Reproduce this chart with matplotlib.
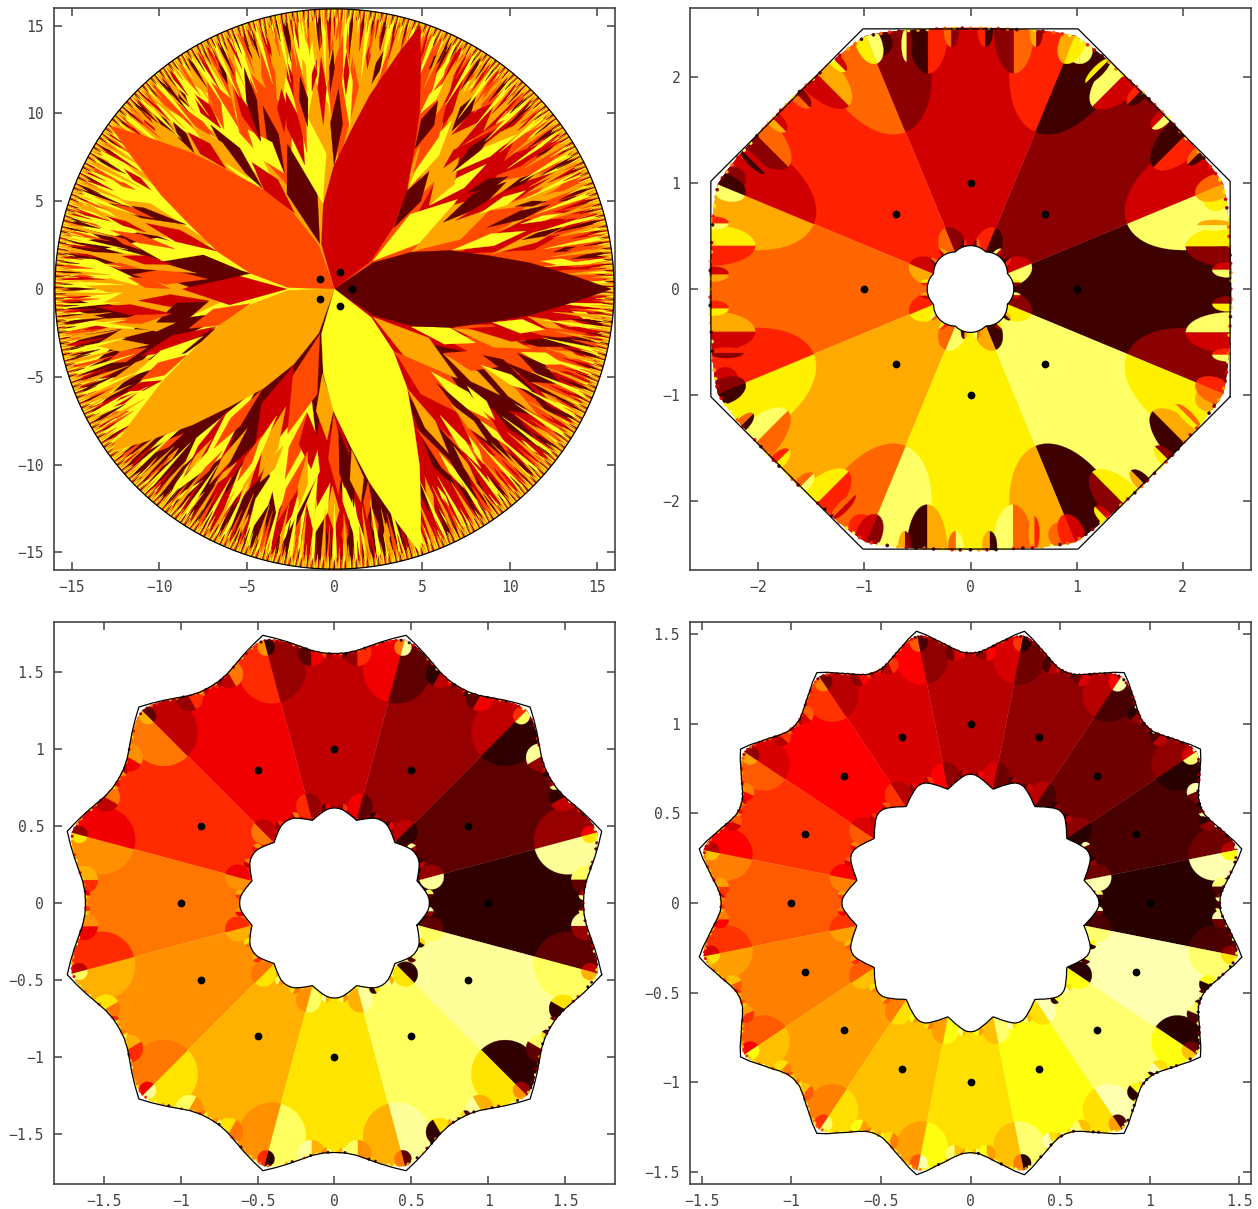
# -*- coding: utf-8 -*-
"""
Basins of attraction for the n-th roots of unity, n = 5, 8, 12, 16
"""

import numpy as np
import matplotlib
matplotlib.use('Agg')
import matplotlib.pyplot as plt
from matplotlib.collections import PolyCollection
from matplotlib.patches import Polygon

#==============================================================================
# data
#==============================================================================

# root colours, going counter clockwise from the root at angle 0
colors_5 = ['#600000', '#d00000', '#ff4a00', '#ffa500', '#ffff20']
colors_8 = ['#3f0000', '#8b0000', '#d00000', '#ff2200',
            '#ff6600', '#ffaa00', '#fff000', '#ffff66']
colors_12 = ['#300000', '#5e0000', '#960000', '#c00000', '#f00000', '#ff2a00',
             '#ff7700', '#ff9000', '#ffb000', '#ffe400', '#ffff60', '#ffff99']
colors_16 = ['#280000', '#4a0000', '#700000', '#900000', '#b80000', '#d80000',
             '#ff0000', '#ff3300', '#ff5a00', '#ff8000', '#ffa000', '#ffc000',
             '#ffe000', '#ffff10', '#ffff70', '#ffffb0']

# n = 5: half outline of the big lobe around a root (root along +x)
lobe_x = [0.0, 2.2, 4.4, 6.6, 8.8, 11.1, 13.8, 15.8]
lobe_y = [0.0, 1.5, 2.1, 2.2, 1.9, 1.5, 0.7, 0.0]
rim_5 = 15.95

# n = 5: wide bands of the fan between root 0 and root 1, drawn first
band_x0 = [3.5, 4.0, 5.0, 7.0, 3.5, 2.2, 2.2, 4.4, 6.6,
           5.0, 7.0, 8.0, 9.0, 5.5, 3.9, 7.0, 10.0, 8.5, 6.5, 8.3]
band_y0 = [4.0, 3.0, 2.3, 2.0, 3.8, 1.5, 1.6, 2.1, 2.2,
           7.5, 8.0, 6.0, 4.5, 9.0, 5.5, 7.0, 8.6, 9.0, 11.0, 11.0]
band_x1 = [9.0, 11.0, 14.0, 14.5, 7.0, 4.4, 7.0, 9.6, 11.9,
           7.5, 11.0, 12.5, 13.5, 7.0, 6.2, 12.0, 13.5, 10.5, 8.0, 10.0]
band_y1 = [13.0, 10.0, 7.0, 4.0, 14.0, 5.9, 5.1, 5.6, 5.8,
           12.5, 11.5, 8.5, 5.6, 13.5, 9.5, 10.0, 10.4, 12.0, 14.0, 13.0]
band_w = [1.5, 1.5, 1.4, 0.9, 1.0, 0.3, 0.9, 0.9, 0.7,
          0.4, 0.45, 0.4, 0.3, 0.3, 0.5, 0.4, 0.3, 0.4, 0.3, 0.3]
band_c = [3, 1, 3, 1, 2, 2, 4, 3, 2,
          1, 1, 1, 3, 3, 3, 3, 3, 3, 1, 2]

# n = 5: narrow spikes on top of them
spike_x0 = [6.2, 6.7, 9.0, 8.7, 6.9, 8.3, 10.6, 10.7, 10.9, 8.8, 11.1, 12.5, 13.8,
            3.4, 5.4, 4.2, 5.4, 4.5, 6.7, 6.7, 4.6, 6.7, 4.9, 6.7, 7.6, 9.2, 9.7, 10.3, 11.5, 7.3, 5.4, 5.6,
            10.0, 11.0, 12.0, 12.8, 12.0, 12.5]
spike_y0 = [3.8, 2.2, 2.0, 3.5, 3.9, 4.3, 3.7, 2.8, 1.8, 1.8, 1.2, 2.1, 1.8,
            3.5, 4.75, 5.7, 4.8, 6.6, 6.6, 9.0, 8.0, 6.6, 10.0, 8.8, 5.5, 9.4, 5.6, 4.7, 7.5, 11.1, 12.5, 11.3,
            10.0, 8.5, 6.5, 5.0, 3.0, 4.4]
spike_x1 = [9.8, 10.9, 13.4, 12.3, 13.0, 10.9, 13.0, 13.0, 14.2, 13.4, 14.0, 13.8, 15.0,
            5.4, 8.65, 6.7, 7.1, 6.4, 9.0, 8.1, 5.9, 10.4, 6.2, 9.1, 9.9, 10.5, 11.5, 12.1, 12.6, 8.1, 6.2, 6.4,
            11.8, 13.0, 14.0, 14.5, 14.5, 14.6]
spike_y1 = [6.1, 3.3, 3.7, 4.8, 6.8, 5.6, 4.3, 3.5, 1.4, 1.8, 1.2, 2.4, 2.0,
            6.7, 7.1, 9.6, 7.5, 10.7, 8.9, 11.1, 10.7, 8.8, 11.7, 10.6, 6.4, 10.4, 6.6, 5.0, 8.3, 12.1, 13.6, 13.0,
            11.6, 10.0, 7.5, 5.3, 3.5, 4.4]
spike_w = [0.45, 0.35, 0.3, 0.25, 0.4, 0.25, 0.15, 0.18, 0.2, 0.25, 0.15, 0.12, 0.08,
           0.5, 0.35, 0.45, 0.6, 0.45, 0.3, 0.35, 0.4, 0.3, 0.25, 0.35, 0.3, 0.2, 0.18, 0.15, 0.15, 0.2, 0.2, 0.2,
           0.25, 0.2, 0.15, 0.12, 0.12, 0.12]
spike_c = [0, 4, 3, 0, 1, 4, 4, 0, 4, 2, 1, 0, 0,
           0, 4, 4, 3, 2, 0, 0, 0, 4, 4, 1, 0, 4, 0, 0, 0, 4, 0, 4,
           0, 4, 4, 0, 2, 1]

# n = 5: thin teeth towards the circle
tooth_start = [13.4, 12.2, 13.8, 12.8, 13.1, 12.0, 13.6, 12.5]
tooth_c = [0, 4, 2, 3, 1, 4, 0, 3, 2, 4, 1, 3]
fine_start = [14.9, 14.4, 15.1, 14.6, 15.3, 14.7]
fine_c = [3, 0, 2, 4, 1, 3, 0, 4, 2]
edge_c = [3, 4, 1, 3, 4, 2, 0, 3, 4]

# n = 8, 12, 16: radius along half a sector, root (first) to corner (last)
curve_8 = [2.448, 2.453, 2.469, 2.496, 2.535, 2.586, 2.65]
curve_12 = [1.62, 1.625, 1.645, 1.68, 1.72, 1.76, 1.80]
curve_16 = [1.392, 1.398, 1.42, 1.45, 1.48, 1.515, 1.545]
edge_8 = [2.46, 2.465, 2.475, 2.49, 2.52, 2.55, 2.58]
edge_12 = [1.62, 1.625, 1.645, 1.68, 1.715, 1.75, 1.77]
edge_16 = [1.395, 1.40, 1.42, 1.45, 1.48, 1.505, 1.52]

# big lens on each ray: centre radius, half length, half width (outer, inner)
lens_8 = [2.65, 1.05, 0.55, 0.43, 0.19, 0.13]
lens_12 = [1.57, 0.22, 0.22, 0.653, 0.08, 0.08]
lens_16 = [1.39, 0.145, 0.145, 0.725, 0.075, 0.075]
# small lens at each corner: centre radius, half length, half width
tip_8 = [2.50, 0.20, 0.12]
tip_12 = [1.72, 0.055, 0.055]
tip_16 = [1.48, 0.05, 0.05]

# lenses around a root: along, across, half length, half width, colour steps
along_8 = [2.45, 2.45, 2.42, 2.42, 2.42, 2.30, 2.36, 2.24, 2.36, 0.40, 0.40]
across_8 = [0.40, -0.41, -0.14, 0.18, -0.62, 0.60, -0.93, -1.03, 0.85, 0.06, -0.06]
half_a_8 = [0.42, 0.42, 0.14, 0.14, 0.14, 0.16, 0.12, 0.12, 0.12, 0.07, 0.07]
half_b_8 = [0.19, 0.19, 0.07, 0.07, 0.06, 0.05, 0.06, 0.12, 0.05, 0.03, 0.03]
ccw_8 = [-2, -1, 1, 2, 3, -3, 2, -3, 1, -2, -1]
cw_8 = [1, 2, -2, -1, -1, -1, -1, -3, -2, 1, 2]

along_12 = [1.63, 1.63, 1.62, 1.62, 0.613, 0.613]
across_12 = [0.15, -0.15, 0.05, -0.05, 0.056, -0.056]
half_a_12 = [0.09, 0.09, 0.03, 0.03, 0.03, 0.03]
half_b_12 = [0.09, 0.09, 0.03, 0.03, 0.03, 0.03]
ccw_12 = [-2, -1, 2, 1, -2, -1]
cw_12 = [1, 2, -1, -2, 1, 2]

along_16 = [1.40, 1.40, 1.39, 1.39, 0.715, 0.715]
across_16 = [0.09, -0.09, 0.03, -0.03, 0.045, -0.045]
half_a_16 = [0.05, 0.05, 0.02, 0.02, 0.025, 0.025]
half_b_16 = [0.05, 0.05, 0.02, 0.02, 0.025, 0.025]
ccw_16 = [-2, -1, 2, 1, -2, -1]
cw_16 = [1, 2, -1, -2, 1, 2]

# rim specks: place along half a sector, colour step
speck_place = [-0.95, -0.88, -0.8, -0.7, -0.62, -0.53, -0.45, -0.36, -0.27, -0.18, -0.1, 0.0,
               0.08, 0.16, 0.25, 0.33, 0.42, 0.51, 0.6, 0.69, 0.78, 0.86, 0.93]
speck_c = [-3, 1, 2, -1, 4, 2, -2, 3, 1, -3, 3, 2, -1, 4, 2, 1, -3, 3, 4, -1, 1, 2, -2]

ticks_5 = [-15, -10, -5, 0, 5, 10, 15]
ticks_8 = [-2, -1, 0, 1, 2]
ticks_half = [-1.5, -1, -0.5, 0, 0.5, 1, 1.5]
labels_5 = ['\u221215', '\u221210', '\u22125', '0', '5', '10', '15']
labels_8 = ['\u22122', '\u22121', '0', '1', '2']
labels_half = ['\u22121.5', '\u22121', '\u22120.5', '0', '0.5', '1', '1.5']

#==============================================================================
# plot settings
#==============================================================================

frame_color = '#444444'
plt.rcParams['font.family'] = ['DejaVu Sans Mono', 'DejaVu Sans']
plt.rcParams['font.size'] = 10.6

W, H = 1258.0, 1209.0
fig = plt.figure(figsize=(12.58, 12.09), dpi=100, facecolor='white')


def make_axes(left, right, top, bottom, lim, ticks, labels):
    ax = fig.add_axes([left / W, 1 - bottom / H, (right - left) / W, (bottom - top) / H])
    ax.set_xlim(-lim, lim)
    ax.set_ylim(-lim, lim)
    ax.set_xticks(ticks)
    ax.set_yticks(ticks)
    ax.set_xticklabels(labels)
    ax.set_yticklabels(labels)
    ax.tick_params(direction='in', length=6, width=1.1, top=True, right=True,
                   color=frame_color, labelcolor=frame_color, pad=7)
    for s in ax.spines.values():
        s.set_color(frame_color)
        s.set_linewidth(1.2)
    return ax


def turn(pts, ang):
    c, s = np.cos(ang), np.sin(ang)
    pts = np.asarray(pts, float)
    return np.column_stack([c * pts[:, 0] - s * pts[:, 1], s * pts[:, 0] + c * pts[:, 1]])


def half_lens(along, across, a, b, axis, side):
    # half an ellipse, on one side of its long axis
    t = np.linspace(0, np.pi, 40)
    pts = np.column_stack([along + a * np.cos(t), across + side * b * np.sin(t)])
    return turn(pts, axis)


def kite(x0, y0, x1, y1, w):
    dx, dy = x1 - x0, y1 - y0
    ln = np.hypot(dx, dy)
    mx, my = x0 + 0.55 * dx, y0 + 0.55 * dy
    return np.array([[x0, y0], [mx - w * dy / ln, my + w * dx / ln], [x1, y1],
                     [mx + w * dy / ln, my - w * dx / ln]])


def add_polys(ax, polys, cols, clip=None, z=2):
    coll = PolyCollection(polys, facecolors=cols, edgecolors=cols, linewidths=0.2, zorder=z)
    ax.add_collection(coll)
    if clip is not None:
        coll.set_clip_path(clip)


def outline(n, radii):
    # closed outline through the listed radii, mirrored around every root
    half = np.pi / n
    frac = np.linspace(0, 1, len(radii))
    th, rr = [], []
    for k in range(n):
        root = 2 * np.pi * k / n
        th += list(root - half * frac[:0:-1]) + list(root + half * frac[:-1])
        rr += list(radii[:0:-1]) + list(radii[:-1])
    th, rr = np.array(th), np.array(rr)
    return th, rr


def root_dots(ax, n):
    ang = 2 * np.pi * np.arange(n) / n
    ax.plot(np.cos(ang), np.sin(ang), 'o', color='k', ms=5.6, mew=0, zorder=6)


def teeth(m, starts, tone, width, cols):
    polys, pc = [], []
    for i in range(m):
        a = 2 * np.pi * i / m
        r0 = starts[i % len(starts)]
        d = width * 2 * np.pi / m
        polys.append(np.array([[r0 * np.cos(a), r0 * np.sin(a)],
                               [16 * np.cos(a - d), 16 * np.sin(a - d)],
                               [16 * np.cos(a + d), 16 * np.sin(a + d)]]))
        pc.append(cols[tone[i % len(tone)]])
    return polys, pc


#==============================================================================
# n = 5
#==============================================================================

def plot_five(ax):
    n = 5
    cols = colors_5
    step = 2 * np.pi / n
    t = np.linspace(0, 2 * np.pi, 400)
    disc = Polygon(rim_5 * np.column_stack([np.cos(t), np.sin(t)]),
                   transform=ax.transData, fc='none', ec='none')
    ax.add_patch(disc)

    # fan background
    polys, pc = [], []
    for j in range(n):
        a0 = j * step
        s = np.linspace(a0, a0 + step, 40)
        polys.append(np.vstack([[0, 0], 16.5 * np.column_stack([np.cos(s), np.sin(s)])]))
        pc.append(cols[(j + 2) % n])
    add_polys(ax, polys, pc, disc, 2)

    # bands and spikes, turned and recoloured for each fan
    for z, (xa, ya, xb, yb, ww, cc) in enumerate([
            (band_x0, band_y0, band_x1, band_y1, band_w, band_c),
            (spike_x0, spike_y0, spike_x1, spike_y1, spike_w, spike_c)]):
        polys, pc = [], []
        for j in range(n):
            for x0, y0, x1, y1, w, c in zip(xa, ya, xb, yb, ww, cc):
                polys.append(turn(kite(x0, y0, x1, y1, w), j * step))
                pc.append(cols[(c + j) % n])
        add_polys(ax, polys, pc, disc, 2.5 + z * 0.2)

    # teeth at the circle
    for m, starts, tone, width in [(300, tooth_start, tooth_c, 0.5),
                                   (700, fine_start, fine_c, 0.55),
                                   (1400, [15.4, 15.2, 15.5], edge_c, 0.6)]:
        polys, pc = teeth(m, starts, tone, width, cols)
        add_polys(ax, polys, pc, disc, 4)

    # big lobes
    half = np.column_stack([lobe_x, lobe_y])
    lobe = np.vstack([half, half[-2:0:-1] * [1, -1]])
    polys = [turn(lobe, j * step) for j in range(n)]
    add_polys(ax, polys, cols, disc, 5)

    ax.plot(rim_5 * np.cos(t), rim_5 * np.sin(t), color='k', lw=0.9, zorder=6)
    root_dots(ax, n)


#==============================================================================
# n = 8, 12, 16
#==============================================================================

def plot_ring(ax, cols, curve, edge, lens, tip, along, across, half_a, half_b, ccw, cw, speck):
    n = len(cols)
    step = 2 * np.pi / n

    th, rr = outline(n, edge)
    clip = Polygon(np.column_stack([rr * np.cos(th), rr * np.sin(th)]),
                   transform=ax.transData, fc='none', ec='none')
    ax.add_patch(clip)

    # wedges
    polys = []
    for k in range(n):
        a = k * step
        t = np.linspace(a - step / 2, a + step / 2, 12)
        polys.append(np.vstack([[0, 0], 4 * np.column_stack([np.cos(t), np.sin(t)])]))
    add_polys(ax, polys, cols, clip, 2)

    # lenses on the rays
    polys, pc = [], []
    for k in range(n):
        ray = (k + 0.5) * step
        for c, a, b in [(lens[0], lens[1], lens[2]), (lens[3], lens[4], lens[5])]:
            polys.append(half_lens(c, 0, a, b, ray, 1))
            pc.append(cols[(k + 2) % n])
            polys.append(half_lens(c, 0, a, b, ray, -1))
            pc.append(cols[(k - 1) % n])
    add_polys(ax, polys, pc, clip, 3)

    # lenses around the roots
    polys, pc = [], []
    for k in range(n):
        axis = k * step
        for al, ac, a, b, up, dn in zip(along, across, half_a, half_b, ccw, cw):
            polys.append(half_lens(al, ac, a, b, axis, 1))
            pc.append(cols[(k + up) % n])
            polys.append(half_lens(al, ac, a, b, axis, -1))
            pc.append(cols[(k + dn) % n])
    add_polys(ax, polys, pc, clip, 4)

    # small lenses at the corners
    polys, pc = [], []
    for k in range(n):
        ray = (k + 0.5) * step
        polys.append(half_lens(tip[0], 0, tip[1], tip[2], ray, 1))
        pc.append(cols[(k + 4) % n])
        polys.append(half_lens(tip[0], 0, tip[1], tip[2], ray, -1))
        pc.append(cols[(k - 3) % n])
    add_polys(ax, polys, pc, clip, 4)

    # specks that stand out a little over the rim
    polys, pc = [], []
    frac = np.linspace(0, 1, len(edge))
    t = np.linspace(0, 2 * np.pi, 10)
    for k in range(n):
        for p, c in zip(speck_place, speck_c):
            r = np.interp(abs(p), frac, edge) - 0.35 * speck
            a = k * step + p * step / 2
            polys.append(np.column_stack([r * np.cos(a) + speck * np.cos(t),
                                          r * np.sin(a) + speck * np.sin(t)]))
            pc.append(cols[(k + c) % n])
    add_polys(ax, polys, pc, None, 4)

    # the hole and the two curves
    th, rr = outline(n, curve)
    hole = np.column_stack([np.cos(th) / rr, np.sin(th) / rr])
    ax.add_patch(Polygon(hole, fc='white', ec='none', zorder=5))
    ax.plot(np.append(rr * np.cos(th), rr[0] * np.cos(th[0])),
            np.append(rr * np.sin(th), rr[0] * np.sin(th[0])),
            color='k', lw=0.9, zorder=6)
    ax.plot(np.append(hole[:, 0], hole[0, 0]), np.append(hole[:, 1], hole[0, 1]),
            color='k', lw=0.9, zorder=6)
    root_dots(ax, n)


ax1 = make_axes(54, 615, 8, 570, 16.0, ticks_5, labels_5)
ax2 = make_axes(690, 1251, 8, 570, 2.645, ticks_8, labels_8)
ax3 = make_axes(54, 615, 622, 1184, 1.825, ticks_half, labels_half)
ax4 = make_axes(690, 1251, 622, 1184, 1.567, ticks_half, labels_half)

plot_five(ax1)
plot_ring(ax2, colors_8, curve_8, edge_8, lens_8, tip_8, along_8, across_8,
          half_a_8, half_b_8, ccw_8, cw_8, 0.016)
plot_ring(ax3, colors_12, curve_12, edge_12, lens_12, tip_12, along_12, across_12,
          half_a_12, half_b_12, ccw_12, cw_12, 0.009)
plot_ring(ax4, colors_16, curve_16, edge_16, lens_16, tip_16, along_16, across_16,
          half_a_16, half_b_16, ccw_16, cw_16, 0.008)

fig.savefig('out.png', dpi=100, facecolor='white')
